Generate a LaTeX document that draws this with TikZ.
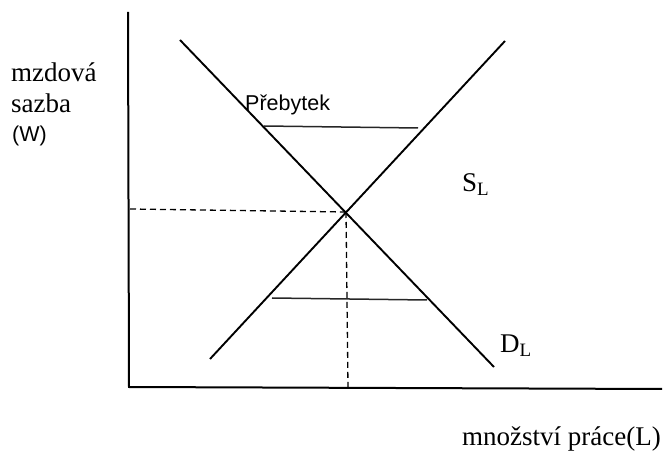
\documentclass[tikz,border=0pt]{standalone}
\usepackage{fontspec}
\setmainfont{Liberation Serif}
\setsansfont{Liberation Sans}

\tikzset{
    axisline/.style={line width=2pt, black},
    curveline/.style={line width=1.9pt, black},
    gapline/.style={line width=1.5pt, black!85},
    guideline/.style={line width=1.3pt, black, dashed, dash pattern=on 6pt off 4pt},
    seriflabel/.style={font=\fontsize{27}{30}\selectfont, inner sep=0pt},
    sanslabel/.style={font=\sffamily\fontsize{21.5}{25}\selectfont, inner sep=0pt}
}

\begin{document}
\begin{tikzpicture}[x=1pt, y=-1pt]

    \useasboundingbox (0,0) rectangle (667,462);

    % ==========================================
    % --- Axes ---
    % ==========================================
    \coordinate (top) at (128,12);
    \coordinate (origin) at (129,387);
    \coordinate (right) at (662,389);
    \draw[axisline] (top) -- (origin) -- (right);

    % ==========================================
    % --- Supply and demand of labour ---
    % ==========================================
    \coordinate (demandtop) at (180,40);
    \coordinate (demandend) at (494,367);
    \coordinate (supplylow) at (210,359);
    \coordinate (supplytop) at (505,41);
    \draw[curveline] (demandtop) -- (demandend);
    \draw[curveline] (supplylow) -- (supplytop);

    % Equilibrium point and guide lines
    \coordinate (eq) at (346,212);
    \coordinate (wagelevel) at (130,209);
    \coordinate (labourlevel) at (348,387);
    \draw[guideline] (wagelevel) -- (eq);
    \draw[guideline] (eq) -- (labourlevel);

    % Surplus (above) and shortage (below)
    \coordinate (surplusleft) at (264,126);
    \coordinate (surplusright) at (418,128);
    \coordinate (shortleft) at (272,298);
    \coordinate (shortright) at (427,300);
    \draw[gapline] (surplusleft) -- (surplusright);
    \draw[gapline] (shortleft) -- (shortright);

    % ==========================================
    % --- Labels ---
    % ==========================================
    \node[seriflabel, anchor=base west] (wage1) at (11,82) {mzdová};
    \node[seriflabel, anchor=base west] (wage2) at (11,113) {sazba};
    \node[sanslabel, anchor=base west] (wage3) at (12,142) {(W)};

    \node[sanslabel, anchor=base west] (surplus) at (245,111) {Přebytek};

    \node[seriflabel, anchor=base west] (supplylab) at (462,192) {S\textsubscript{L}};
    \node[seriflabel, anchor=base west] (demandlab) at (500,353) {D\textsubscript{L}};

    \node[seriflabel, anchor=base east] (quantity) at (661,446) {množství práce(L)};

\end{tikzpicture}
\end{document}
